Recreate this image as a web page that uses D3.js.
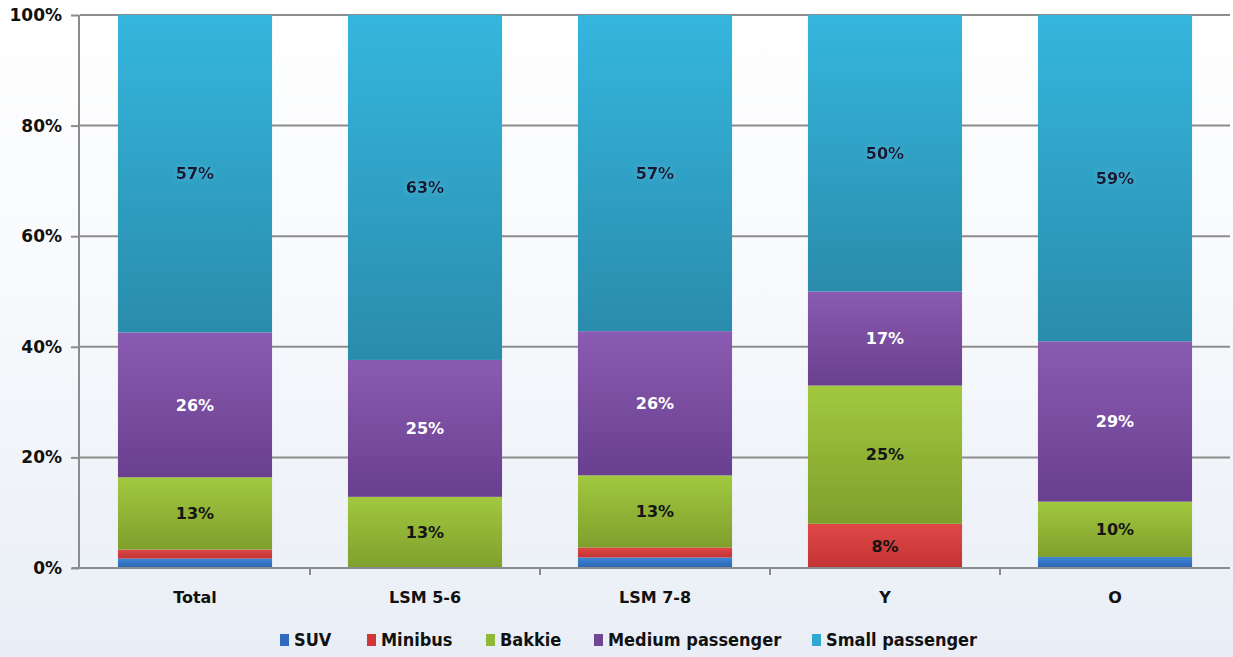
<!DOCTYPE html>
<html>
<head>
<meta charset="utf-8">
<script src="https://cdn.jsdelivr.net/npm/d3@7"></script>
<style>
  html, body { margin: 0; padding: 0; }
  body { width: 1233px; height: 657px; overflow: hidden;
         background: linear-gradient(180deg, #ffffff 0%, #f7f9fc 45%, #e9eef6 100%); }
  svg { display: block; }
</style>
</head>
<body>
<svg id="chart" width="1233" height="657"></svg>
<script>
// Vehicle type share by segment (percent of each segment)
const categories = ["Total", "LSM 5-6", "LSM 7-8", "Y", "O"];
const seriesNames = ["SUV", "Minibus", "Bakkie", "Medium passenger", "Small passenger"];
const suv             = [1.7, 0,   1.9, 0,  2];
const minibus         = [1.6, 0,   1.8, 8,  0];
const bakkie          = [13,  13,  13,  25, 10];
const mediumPassenger = [26,  25,  26,  17, 29];
const smallPassenger  = [57,  63,  57,  50, 59];
const yTicks = [0, 0.2, 0.4, 0.6, 0.8, 1];

const seriesValues = [suv, minibus, bakkie, mediumPassenger, smallPassenger];
const colors = {
  "SUV":              ["#3f86d6", "#2a64b0"],
  "Minibus":          ["#e04848", "#c23333"],
  "Bakkie":           ["#a2c83f", "#7f9f2c"],
  "Medium passenger": ["#8a5bb2", "#693f8f"],
  "Small passenger":  ["#35b6de", "#2a8cac"]
};
const legendColors = {
  "SUV": "#2e6bc0", "Minibus": "#d23535", "Bakkie": "#90b83a",
  "Medium passenger": "#6f4596", "Small passenger": "#31a8cf"
};
const labelColor = {
  "SUV": "#111", "Minibus": "#151515", "Bakkie": "#151515",
  "Medium passenger": "#ffffff", "Small passenger": "#141432"
};

const rows = categories.map((c, i) => {
  const r = { category: c };
  seriesNames.forEach((s, k) => r[s] = seriesValues[k][i]);
  return r;
});

const svg = d3.select("#chart");
const plotLeft = 80, plotRight = 1230, plotTop = 15, plotBottom = 568;

const x = d3.scaleBand().domain(categories).range([plotLeft, plotRight])
  .paddingInner(0.33).paddingOuter(0.165);
const y = d3.scaleLinear().domain([0, 1]).range([plotBottom, plotTop]);

const stack = d3.stack().keys(seriesNames).offset(d3.stackOffsetExpand);
const stacked = stack(rows);

// gradients per series
const defs = svg.append("defs");
seriesNames.forEach((s, k) => {
  const g = defs.append("linearGradient").attr("id", "grad" + k)
    .attr("x1", 0).attr("y1", 0).attr("x2", 0).attr("y2", 1);
  g.append("stop").attr("offset", "0%").attr("stop-color", colors[s][0]);
  g.append("stop").attr("offset", "100%").attr("stop-color", colors[s][1]);
});
const glow = defs.append("filter").attr("id", "glow")
  .attr("x", "-30%").attr("y", "-50%").attr("width", "160%").attr("height", "200%");
glow.append("feGaussianBlur").attr("in", "SourceAlpha").attr("stdDeviation", 3).attr("result", "b");
glow.append("feFlood").attr("flood-color", "#8fd6ee").attr("flood-opacity", 0.35);
glow.append("feComposite").attr("in2", "b").attr("operator", "in").attr("result", "g");
const fm = glow.append("feMerge");
fm.append("feMergeNode").attr("in", "g");
fm.append("feMergeNode").attr("in", "SourceGraphic");

// gridlines
svg.append("g").selectAll("line").data(yTicks.filter(t => t > 0)).join("line")
  .attr("x1", plotLeft).attr("x2", plotRight)
  .attr("y1", d => y(d)).attr("y2", d => y(d))
  .attr("stroke", "#8c8c8c").attr("stroke-width", 2);

// bars
const layers = svg.append("g").selectAll("g").data(stacked).join("g")
  .attr("fill", (d, k) => `url(#grad${k})`);
layers.selectAll("rect").data(d => d.map(p => ({ p, key: d.key }))).join("rect")
  .attr("x", d => x(d.p.data.category))
  .attr("width", x.bandwidth())
  .attr("y", d => y(d.p[1]))
  .attr("height", d => Math.max(0, y(d.p[0]) - y(d.p[1])));

// value labels
const labels = svg.append("g")
  .attr("font-family", "'DejaVu Sans', Verdana, sans-serif")
  .attr("font-weight", "bold").attr("font-size", 16).attr("text-anchor", "middle");
stacked.forEach(layer => {
  layer.forEach(p => {
    const v = p.data[layer.key];
    if (v < 5) return;
    labels.append("text")
      .attr("x", x(p.data.category) + x.bandwidth() / 2)
      .attr("y", (y(p[0]) + y(p[1])) / 2)
      .attr("dy", "0.36em")
      .attr("fill", labelColor[layer.key])
      .attr("filter", layer.key === "Small passenger" ? "url(#glow)" : null)
      .text(Math.round(v) + "%");
  });
});

// y axis
const yAxis = svg.append("g").attr("transform", `translate(${plotLeft - 1},0)`)
  .call(d3.axisLeft(y).tickValues(yTicks).tickFormat(d3.format(".0%")).tickSize(8).tickPadding(9));
yAxis.select(".domain").attr("stroke", "#8c8c8c").attr("stroke-width", 2)
  .attr("d", `M0,${plotTop}V${plotBottom}`);
yAxis.selectAll(".tick line").attr("stroke", "#8c8c8c").attr("stroke-width", 2);
yAxis.selectAll(".tick text")
  .attr("font-family", "'DejaVu Sans', Verdana, sans-serif")
  .attr("font-weight", "bold").attr("font-size", 17).attr("fill", "#111");

// x axis
const xAxisG = svg.append("g");
xAxisG.append("line").attr("x1", plotLeft - 8).attr("x2", plotRight)
  .attr("y1", plotBottom).attr("y2", plotBottom)
  .attr("stroke", "#8c8c8c").attr("stroke-width", 2);
const boundaries = categories.map(c => x(c) - x.step() * x.paddingInner() / 2).slice(1);
xAxisG.selectAll("line.tk").data(boundaries).join("line").attr("class", "tk")
  .attr("x1", d => d).attr("x2", d => d)
  .attr("y1", plotBottom).attr("y2", plotBottom + 7)
  .attr("stroke", "#8c8c8c").attr("stroke-width", 2);
xAxisG.selectAll("text").data(categories).join("text")
  .attr("x", d => x(d) + x.bandwidth() / 2).attr("y", 603)
  .attr("text-anchor", "middle")
  .attr("font-family", "'DejaVu Sans', Verdana, sans-serif")
  .attr("font-weight", "bold").attr("font-size", 16).attr("fill", "#111")
  .text(d => d);

// legend
const legendX = [280, 367, 486, 594, 812];
const legend = svg.append("g");
seriesNames.forEach((s, k) => {
  const g = legend.append("g").attr("transform", `translate(${legendX[k]},640)`);
  g.append("rect").attr("x", 0).attr("y", -6).attr("width", 9).attr("height", 12)
    .attr("fill", legendColors[s]);
  g.append("text").attr("x", 14).attr("y", 0).attr("dy", "0.36em")
    .attr("font-family", "'DejaVu Sans', Verdana, sans-serif")
    .attr("font-stretch", "condensed")
    .attr("font-weight", "bold").attr("font-size", 18).attr("fill", "#111")
    .text(s);
});
</script>
</body>
</html>
